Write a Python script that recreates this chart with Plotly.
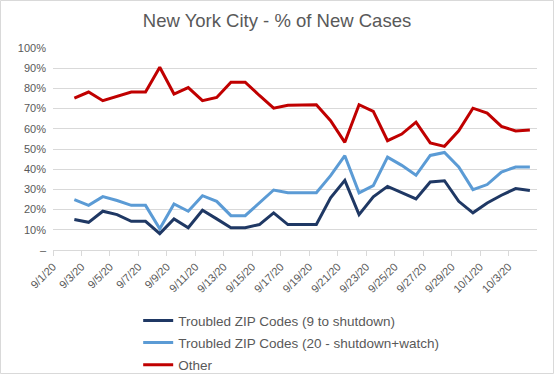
import pandas as pd
import plotly.graph_objects as go

start_date = "2020-09-02"
n_days = 33
troubled_9 = [15.1, 13.7, 19.2, 17.5, 14.2, 14.2, 8.1, 15.4, 11.0, 19.7, 15.4, 11.0, 11.0, 12.6, 18.4, 12.6,
              12.6, 12.6, 25.8, 34.5, 17.5, 26.3, 31.5, 28.3, 25.3, 33.7, 34.3, 24.1, 18.4, 23.3, 27.1, 30.4, 29.4]
troubled_20 = [24.9, 22.1, 26.4, 24.5, 22.1, 22.1, 10.5, 22.8, 19.2, 26.9, 24.1, 17.0, 17.0, 23.6, 29.7, 28.3,
               28.3, 28.3, 36.8, 46.7, 28.3, 31.9, 46.0, 41.9, 37.0, 46.8, 48.3, 41.1, 29.9, 32.4, 38.6, 41.1, 41.1]
other = [75.2, 78.2, 73.9, 76.0, 78.2, 78.2, 90.5, 77.2, 80.4, 73.9, 75.5, 83.1, 83.1, 76.5, 70.2, 71.7,
         71.9, 71.9, 64.0, 53.3, 71.9, 68.6, 54.1, 57.4, 63.3, 53.0, 51.3, 59.0, 70.2, 67.8, 61.2, 58.9, 59.4]

tick_dates = pd.date_range("2020-09-01", "2020-10-03", freq="2D")
tick_labels = [f"{d.month}/{d.day}/20" for d in tick_dates]
y_ticks = [0, 10, 20, 30, 40, 50, 60, 70, 80, 90, 100]
y_labels = ["–"] + [f"{v}%" for v in y_ticks[1:]]

dates = pd.date_range(start_date, periods=n_days, freq="D") + pd.Timedelta(hours=12)

series = [
    ("Troubled ZIP Codes (9 to shutdown)", troubled_9, "#1f3864", "legend"),
    ("Troubled ZIP Codes (20 - shutdown+watch)", troubled_20, "#5b9bd5", "legend2"),
    ("Other", other, "#c00000", "legend3"),
]

fig = go.Figure()
for name, vals, color, lg in series:
    fig.add_trace(go.Scatter(x=dates, y=vals, mode="lines", name=name, legend=lg,
                             line=dict(color=color, width=3), hoverinfo="skip"))

font = dict(family="Liberation Sans, Arial, sans-serif", color="#595959")
plot_h = 374 - 48 - 124

def legend_at(ypix):
    return dict(orientation="v", x=0.176, xanchor="left", y=(250 - ypix) / plot_h, yanchor="middle",
                font=dict(size=13.5, **font), bgcolor="rgba(0,0,0,0)", itemwidth=30)

fig.update_layout(
    width=554, height=374,
    margin=dict(l=53, r=17, t=48, b=124, autoexpand=False),
    paper_bgcolor="white", plot_bgcolor="white",
    title=dict(text="New York City - % of New Cases", x=0.5, xanchor="center", y=0.945, yanchor="middle",
               font=dict(size=18.5, **font)),
    font=dict(size=11, **font),
    showlegend=True,
    hovermode=False,
    legend=legend_at(320.7),
    legend2=legend_at(342.6),
    legend3=legend_at(364.9),
    xaxis=dict(type="date", range=["2020-09-01", "2020-10-05"],
               tickvals=tick_dates, ticktext=tick_labels, tickangle=-45,
               showgrid=False, showline=True, linecolor="#d9d9d9", linewidth=1,
               ticks="outside", ticklen=5, tickcolor="#d9d9d9", tickfont=dict(size=11, **font)),
    yaxis=dict(range=[0, 100], tickvals=y_ticks, ticktext=y_labels,
               showgrid=True, gridcolor="#d9d9d9", gridwidth=1, zeroline=False,
               showline=False, tickfont=dict(size=11, **font), ticks="", ticklabelstandoff=6),
    shapes=[dict(type="rect", xref="paper", yref="paper", x0=-52.5/484, x1=1+16.5/484,
                 y0=-123.5/plot_h, y1=1+47.5/plot_h, line=dict(color="#d9d9d9", width=1))],
)

fig.write_html("out.html", config={"displayModeBar": False},
               post_script="document.body.style.margin='0px';")
